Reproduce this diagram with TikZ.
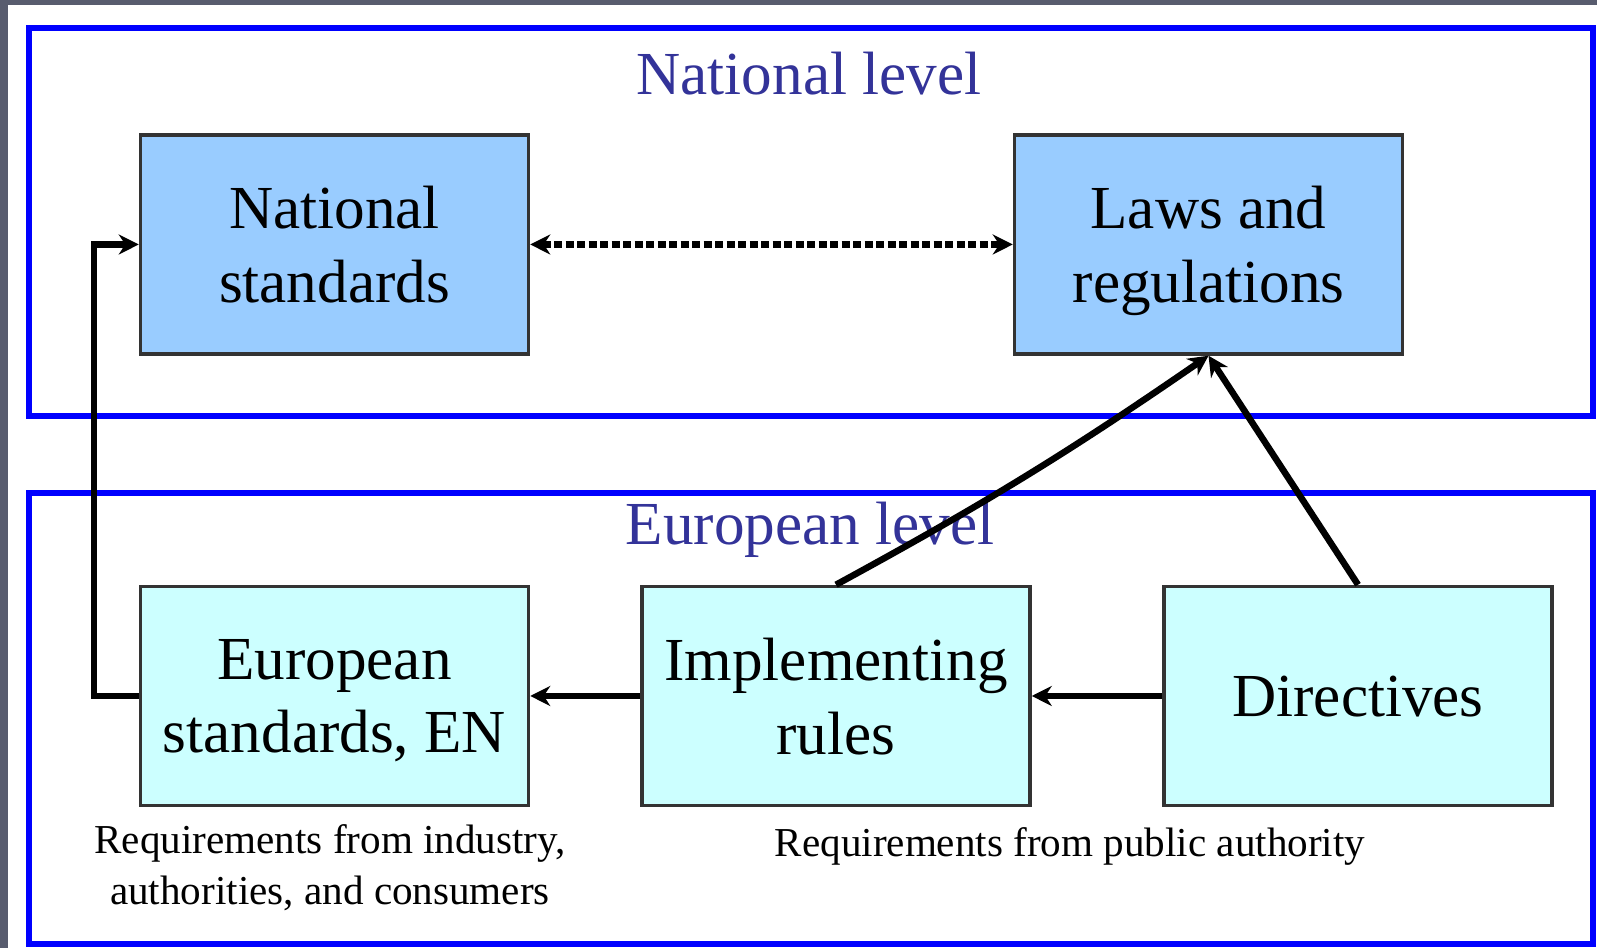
\documentclass[tikz,border=0pt]{standalone}
\usepackage{fontspec}
\setmainfont{Liberation Serif}
\usetikzlibrary{arrows.meta}

\definecolor{natfill}{RGB}{153,204,255}
\definecolor{eufill}{RGB}{204,255,255}
\definecolor{levelblue}{RGB}{51,51,153}
\definecolor{framegray}{RGB}{88,92,110}
\definecolor{boxline}{RGB}{51,51,51}

\begin{document}
\begin{tikzpicture}[
	box/.style={shape=rectangle, draw=boxline, line width=0.035cm, minimum width=3.88cm, minimum height=2.19cm, align=center, text depth=0pt, font=\fontsize{17.4}{21}\selectfont},
	level/.style={anchor=base, text=levelblue, font=\fontsize{17.4}{21}\selectfont},
	levelframe/.style={draw=blue, line width=0.055cm},
	caption/.style={inner sep=0pt, align=center, font=\fontsize{11.7}{14.5}\selectfont},
	link/.style={-{Stealth[length=0.2cm,width=0.2cm]}, line width=0.065cm},
	dotlink/.style={{Stealth[length=0.2cm,width=0.2cm]}-{Stealth[length=0.2cm,width=0.2cm]}, line width=0.07cm, dash pattern=on 0.08cm off 0.035cm}
]
    	
    	% background and the two levels
    	\fill[framegray] (0,0) rectangle (15.97,9.48);
    	\fill[white] (0.08,0) rectangle (15.97,9.43);
    	\draw[levelframe] (0.29,9.20) rectangle (15.93,5.32);
    	\draw[levelframe] (0.29,4.55) rectangle (15.93,0.04);
    	
    	\node[level] (natlevel) at (8.09, 8.53) {National level};
    	\node[level] (eulevel) at (8.10, 4.03) {European level};
    	
    	\node[box, fill=natfill] (nat)  at (3.345, 7.035) {National\\standards};
    	\node[box, fill=natfill] (laws) at (12.085, 7.035) {Laws and\\regulations};
    	\node[box, fill=eufill]  (eu)   at (3.345, 2.52)  {European\\standards, EN};
    	\node[box, fill=eufill]  (impl) at (8.36, 2.52)   {Implementing\\rules};
    	\node[box, fill=eufill]  (dir)  at (13.58, 2.52)  {Directives};
    	
    	\node[caption, anchor=north] (industry) at (3.30, 1.24) {Requirements from industry,\\authorities, and consumers};
    	\node[caption, anchor=base] (public) at (10.70, 0.91) {Requirements from public authority};
    	
    	\path[dotlink] (nat) edge (laws);
    	\path[link] (dir) edge (impl);
    	\path[link] (impl) edge (eu);
    	\path[link] (impl.north) edge[bend right=3] (laws.south);
    	\path[link] (dir.north) edge (laws.south);
    	\draw[link] (eu.west) -- ++(-0.45,0) |- (nat.west);
    	
\end{tikzpicture}
\end{document}
